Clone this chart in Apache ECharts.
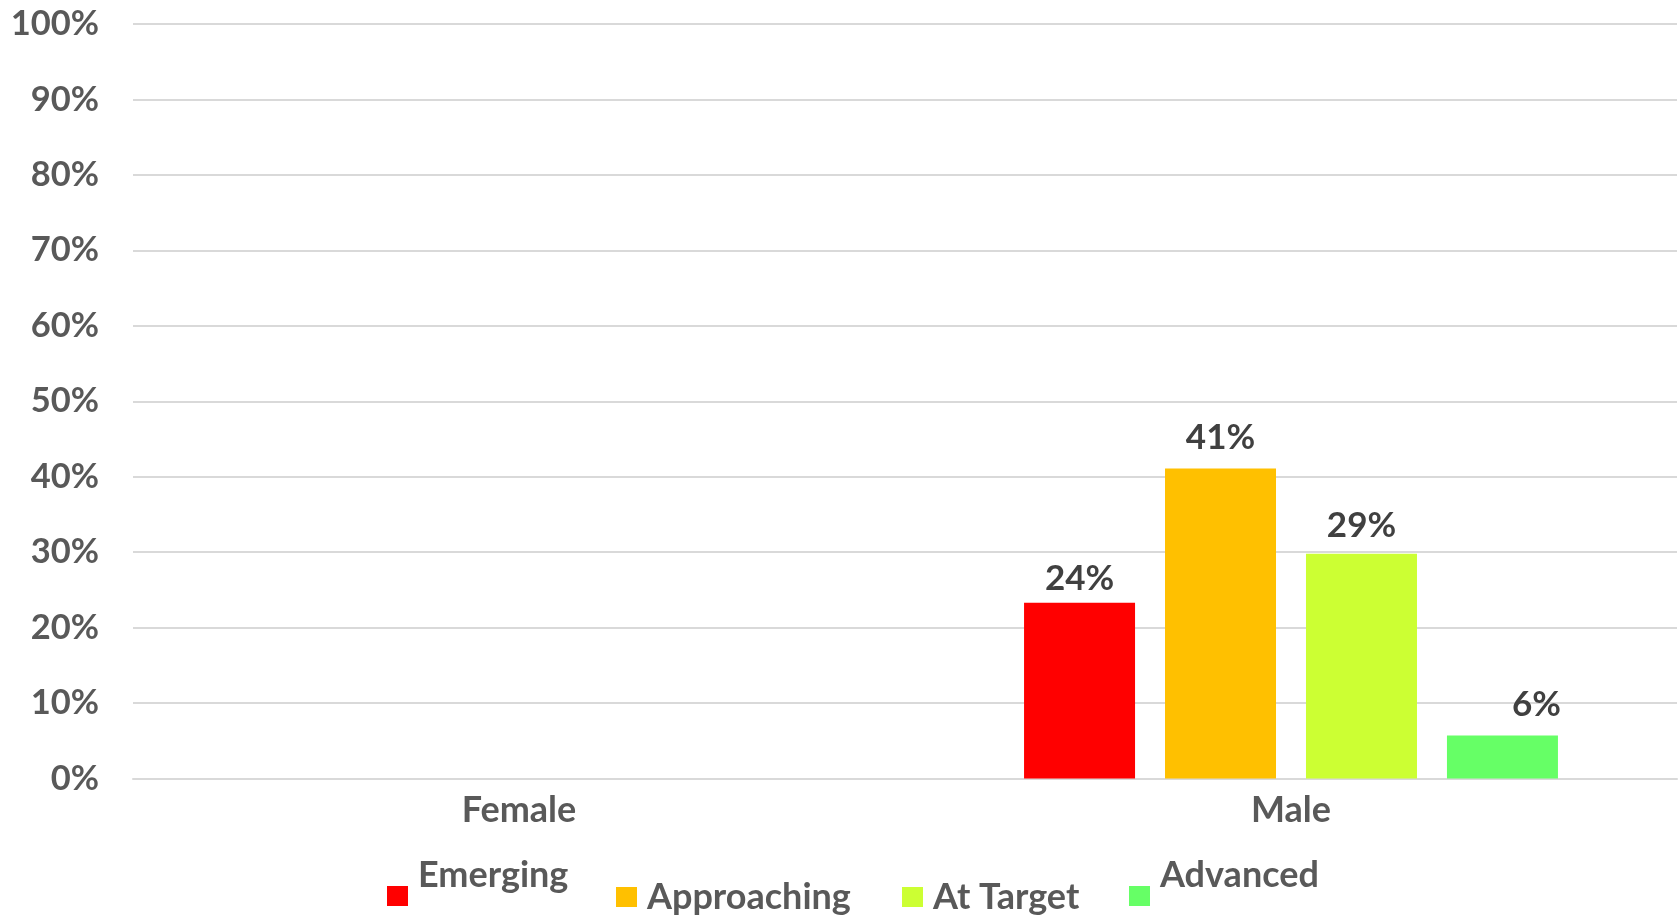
<!DOCTYPE html>
<html>
<head>
<meta charset="utf-8">
<script src="https://cdn.jsdelivr.net/npm/echarts@6/dist/echarts.min.js"></script>
<style>
html,body{margin:0;padding:0;background:#fff;}
#chart{width:1679px;height:916px;}
</style>
</head>
<body>
<div id="chart"></div>
<script>
var categories = ['Female', 'Male'];
var seriesNames = ['Emerging', 'Approaching', 'At Target', 'Advanced'];
var femaleValues = [null, null, null, null];
var maleValues = [0.233, 0.411, 0.298, 0.057];
var maleLabels = ['24%', '41%', '29%', '6%'];
var yTicks = [0, 0.1, 0.2, 0.3, 0.4, 0.5, 0.6, 0.7, 0.8, 0.9, 1.0];
var colors = ['#FF0000', '#FFC000', '#CCFF33', '#66FF66'];

var FONT = 'Lato';
var chart = echarts.init(document.getElementById('chart'));

var labelOffsets = [[0, 0], [0, -7], [0, -4], [34, -7]];
var series = seriesNames.map(function (name, i) {
  return {
    name: name,
    type: 'bar',
    data: [femaleValues[i], maleValues[i]],
    barWidth: 111,
    barGap: '27%',
    itemStyle: { color: colors[i] },
    label: {
      show: true,
      position: 'top',
      distance: 6,
      offset: labelOffsets[i],
      fontFamily: FONT,
      fontWeight: 'bold',
      fontSize: 35,
      color: '#404040',
      formatter: function (p) { return p.value == null ? '' : maleLabels[p.seriesIndex]; }
    },
    emphasis: { disabled: true }
  };
});

var legendLeft = [387, 616, 902, 1129];
var raised = [true, false, false, true];
var legends = seriesNames.map(function (name, i) {
  return {
    data: [name],
    left: legendLeft[i],
    top: raised[i] ? 857 : 879,
    padding: 0,
    itemWidth: 21,
    itemHeight: 20,
    itemGap: 0,
    icon: 'rect',
    selectedMode: false,
    formatter: raised[i] ? '{t|{name}}\n{s| }' : '{t|{name}}',
    textStyle: {
      rich: {
        t: {
          fontFamily: FONT,
          fontWeight: 'bold',
          fontSize: 36,
          color: '#595959',
          lineHeight: 20,
          padding: [0, 0, 0, 5]
        },
        s: { fontSize: 2, lineHeight: 42 }
      }
    }
  };
});

chart.setOption({
  animation: false,
  color: colors,
  grid: { left: 133, right: 2, top: 24, bottom: 137.5, containLabel: false },
  legend: legends,
  xAxis: {
    type: 'category',
    data: categories,
    axisTick: { show: false },
    axisLine: { show: true, lineStyle: { color: '#d9d9d9', width: 2 } },
    axisLabel: {
      margin: 14,
      fontFamily: FONT,
      fontWeight: 'bold',
      fontSize: 36,
      color: '#595959'
    }
  },
  yAxis: {
    type: 'value',
    min: yTicks[0],
    max: yTicks[yTicks.length - 1],
    interval: 0.1,
    axisLine: { show: false },
    axisTick: { show: false },
    splitLine: { show: true, lineStyle: { color: '#d9d9d9', width: 2 } },
    axisLabel: {
      margin: 34,
      fontFamily: FONT,
      fontWeight: 'bold',
      fontSize: 34.5,
      color: '#595959',
      formatter: function (v) { return Math.round(v * 100) + '%'; }
    }
  },
  series: series
});
</script>
</body>
</html>
